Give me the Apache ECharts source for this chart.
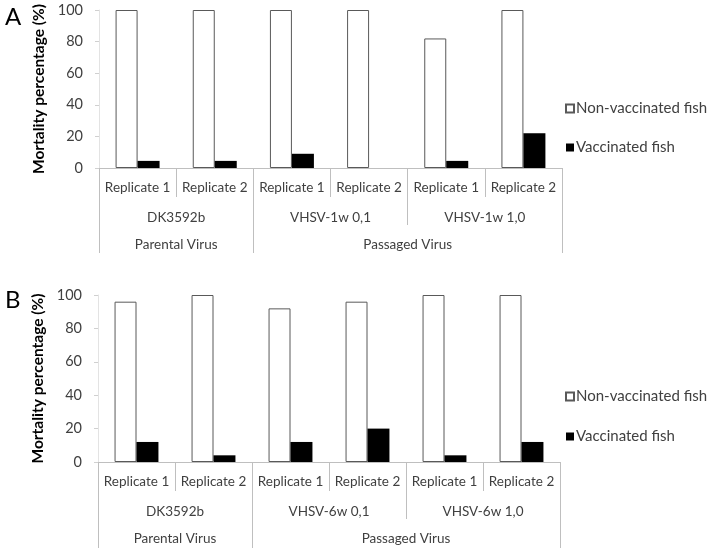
<!DOCTYPE html>
<html>
<head>
<meta charset="utf-8">
<script src="https://cdn.jsdelivr.net/npm/echarts@6/dist/echarts.min.js"></script>
<style>
  html, body { margin: 0; padding: 0; background: #fff; }
  #chart { width: 709px; height: 548px; }
</style>
</head>
<body>
<div id="chart"></div>
<script>
// data
const replicates = ['Replicate 1', 'Replicate 2', 'Replicate 1', 'Replicate 2', 'Replicate 1', 'Replicate 2']
const strainsA = ['DK3592b', 'VHSV-1w 0,1', 'VHSV-1w 1,0']
const strainsB = ['DK3592b', 'VHSV-6w 0,1', 'VHSV-6w 1,0']
const virusGroups = ['Parental Virus', 'Passaged Virus']
const yTicks = [0, 20, 40, 60, 80, 100]

const nonVaccA = [100, 100, 100, 100, 82, 100]
const vaccA = [4.5, 4.5, 9, 0, 4.5, 22]
const nonVaccB = [96, 100, 92, 96, 100, 100]
const vaccB = [12, 4, 12, 20, 4, 12]

const font = 'Lato, "Open Sans", sans-serif'
const textColor = '#404040'
const lineColor = '#bfbfbf'

const chart = echarts.init(document.getElementById('chart'), null, { renderer: 'canvas' })

const grids = [
  { left: 99, right: 147, top: 10, height: 158 },
  { left: 98, right: 149, top: 295, height: 167 },
]

function xAxesFor(gi, strains) {
  const lvl = 29
  return [
    {
      type: 'category', gridIndex: gi, data: replicates, position: 'bottom',
      axisLine: { lineStyle: { color: lineColor } },
      axisTick: { show: true, interval: 0, length: lvl, lineStyle: { color: lineColor } },
      axisLabel: { interval: 0, margin: 13, fontFamily: font, fontSize: 13.5, color: textColor },
    },
    {
      type: 'value', gridIndex: gi, min: 0, max: 6, position: 'bottom', offset: lvl,
      axisLine: { show: false }, splitLine: { show: false },
      axisTick: { show: true, customValues: [0, 2, 4, 6], length: lvl - 1, lineStyle: { color: lineColor } },
      axisLabel: {
        customValues: [1, 3, 5], margin: 14, fontFamily: font, fontSize: 13.5, color: textColor,
        formatter: (v) => strains[Math.round((v - 1) / 2)],
      },
    },
    {
      type: 'value', gridIndex: gi, min: 0, max: 6, position: 'bottom', offset: lvl * 2 - 1,
      axisLine: { show: false }, splitLine: { show: false },
      axisTick: { show: true, customValues: [0, 2, 6], length: gi === 0 ? lvl - 1 : 40, lineStyle: { color: lineColor } },
      axisLabel: {
        customValues: [1, 4], margin: 13, fontFamily: font, fontSize: 13.5, color: textColor,
        formatter: (v) => (v === 1 ? virusGroups[0] : virusGroups[1]),
      },
    },
  ]
}

function yAxisFor(gi) {
  return {
    type: 'value', gridIndex: gi, min: yTicks[0], max: yTicks[yTicks.length - 1], interval: 20,
    name: 'Mortality percentage (%)', nameLocation: 'middle', nameGap: 50,
    nameTextStyle: { fontFamily: font, fontSize: 15.5, fontWeight: 'bold', color: '#000' },
    axisLine: { show: true, lineStyle: { color: '#e3e3e3' } },
    axisTick: { show: true, length: 4, lineStyle: { color: '#d0d0d0' } },
    splitLine: { show: false },
    axisLabel: { margin: 16, fontFamily: font, fontSize: 14.5, color: textColor },
  }
}

const whiteStyle = { color: '#ffffff', borderColor: '#595959', borderWidth: 1 }
const blackStyle = { color: '#000000' }

function barSeries(name, data, gi, style) {
  return {
    name, type: 'bar', data, xAxisIndex: gi * 3, yAxisIndex: gi,
    barGap: '0%', barCategoryGap: '43%', itemStyle: style, silent: true,
  }
}

const legendStyle = {
  orient: 'vertical', left: 565, padding: 0, icon: 'rect', itemWidth: 8, itemHeight: 8, itemGap: 24,
  textStyle: { fontFamily: font, fontSize: 15, color: textColor, padding: [0, 0, 0, -3] },
}

chart.setOption({
  animation: false,
  title: [
    { text: 'A', left: 0, top: 0, textStyle: { fontFamily: font, fontSize: 24, fontWeight: 'normal', color: '#000' } },
    { text: 'B', left: 0, top: 283, textStyle: { fontFamily: font, fontSize: 24, fontWeight: 'normal', color: '#000' } },
  ],
  grid: grids,
  xAxis: [...xAxesFor(0, strainsA), ...xAxesFor(1, strainsB)],
  yAxis: [yAxisFor(0), yAxisFor(1)],
  legend: [
    { ...legendStyle, top: 101, data: ['Non-vaccinated fish', 'Vaccinated fish'] },
    { ...legendStyle, top: 389, itemGap: 25, data: ['Non-vaccinated fish B', 'Vaccinated fish B'],
      formatter: (n) => n.replace(' B', '') },
  ],
  series: [
    barSeries('Non-vaccinated fish', nonVaccA, 0, whiteStyle),
    barSeries('Vaccinated fish', vaccA, 0, blackStyle),
    barSeries('Non-vaccinated fish B', nonVaccB, 1, whiteStyle),
    barSeries('Vaccinated fish B', vaccB, 1, blackStyle),
  ],
})
</script>
</body>
</html>
